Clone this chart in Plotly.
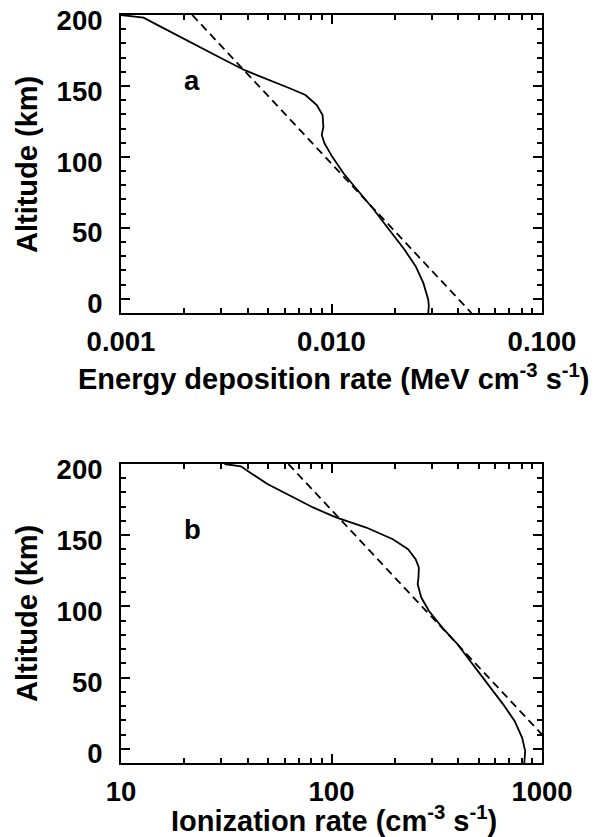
import plotly.graph_objects as go
from plotly.subplots import make_subplots

# ---- Panel a: energy deposition rate (MeV cm^-3 s^-1) vs altitude (km)
alt_a = [200, 198.1, 191.6, 184.5, 177.5, 169.3, 161.1, 154.8, 148.2, 143.6, 136.5,
         129.5, 121.3, 115.5, 109.6, 100.2, 88.5, 75.6, 62.8, 48.7, 34.7, 23.0,
         11.2, -0.5, -5.0, -10.0]
edep_a = [0.00100, 0.00128, 0.00155, 0.00191, 0.00234, 0.00301, 0.00387, 0.00496,
          0.00637, 0.00752, 0.00851, 0.00907, 0.00915, 0.00899, 0.00926, 0.01007,
          0.0114, 0.01346, 0.0159, 0.0188, 0.0222, 0.0251, 0.0273, 0.0288, 0.0290,
          0.0288]
fit_alt_a = [200, -10]
fit_edep_a = [0.00218, 0.0462]

# ---- Panel b: ionization rate (cm^-3 s^-1) vs altitude (km)
alt_b = [200, 198.4, 193.0, 185.9, 177.7, 169.5, 162.5, 155.4, 147.2, 140.2, 133.2,
         127.3, 120.3, 115.6, 106.2, 96.8, 85.1, 73.4, 59.3, 45.3, 31.2, 19.5, 7.7,
         -1.6, -8.7, -10.0]
ion_b = [31.0, 37.1, 42.0, 49.6, 63.7, 81.7, 105, 146.3, 195.7, 231, 251, 260, 259,
         256.6, 267, 290.5, 336, 397, 469, 554, 654, 741, 805, 832, 826, 824]
fit_alt_b = [200, -10]
fit_ion_b = [62.4, 1340]

xticks_a = [0.001, 0.01, 0.1]
xticklabels_a = ["0.001", "0.010", "0.100"]
xticks_b = [10, 100, 1000]
xticklabels_b = ["10", "100", "1000"]
yticks = [0, 50, 100, 150, 200]
ytick_labels = ["0", "50", "100", "150", "200"]

FONT = "Liberation Sans, Arial, Helvetica, sans-serif"

fig = make_subplots(rows=2, cols=1, vertical_spacing=0.2)

line_solid = dict(color="black", width=1.8)
line_dash = dict(color="black", width=1.8, dash="8px,5px")

fig.add_trace(go.Scatter(x=edep_a, y=alt_a, mode="lines", line=line_solid,
                         showlegend=False), row=1, col=1)
fig.add_trace(go.Scatter(x=fit_edep_a, y=fit_alt_a, mode="lines", line=line_dash,
                         showlegend=False), row=1, col=1)
fig.add_trace(go.Scatter(x=ion_b, y=alt_b, mode="lines", line=line_solid,
                         showlegend=False), row=2, col=1)
fig.add_trace(go.Scatter(x=fit_ion_b, y=fit_alt_b, mode="lines", line=line_dash,
                         showlegend=False), row=2, col=1)

def minor_log(lo, hi):
    vals = []
    d = lo
    while d < hi:
        for k in range(2, 10):
            vals.append(d * k)
        d *= 10
    return vals

TICK_SIZE = 27.5
TITLE_SIZE = 29

common_axis = dict(showline=True, linecolor="black", linewidth=2, mirror="allticks",
                   ticks="inside", ticklen=9, tickwidth=1.5, tickcolor="black",
                   showgrid=False, zeroline=False,
                   tickfont=dict(family=FONT, size=TICK_SIZE, color="black", weight="bold"))

fig.update_xaxes(type="log", range=[-3, -1], tickmode="array", tickvals=xticks_a,
                 ticktext=xticklabels_a, ticklabelstandoff=3,
                 minor=dict(tickmode="array", tickvals=minor_log(0.001, 0.1),
                            ticks="inside", ticklen=5, tickwidth=1.5, tickcolor="black"),
                 **common_axis, row=1, col=1)
fig.update_xaxes(type="log", range=[1, 3], tickmode="array", tickvals=xticks_b,
                 ticktext=xticklabels_b, ticklabelstandoff=3,
                 minor=dict(tickmode="array", tickvals=minor_log(10, 1000),
                            ticks="inside", ticklen=5, tickwidth=1.5, tickcolor="black"),
                 **common_axis, row=2, col=1)
for r in (1, 2):
    fig.update_yaxes(range=[-10, 200], tickmode="array", tickvals=yticks,
                     ticktext=ytick_labels, ticklabelstandoff=11, ticklabelshift=5,
                     minor=dict(dtick=10, tick0=0, ticks="inside", ticklen=5,
                                tickwidth=1.5, tickcolor="black"),
                     **common_axis, row=r, col=1)

fig.update_layout(
    width=600, height=837,
    margin=dict(l=121, r=58, t=15, b=74, autoexpand=False),
    paper_bgcolor="white", plot_bgcolor="white",
    font=dict(family=FONT, color="black"),
    xaxis=dict(domain=[0, 1]), xaxis2=dict(domain=[0, 1]),
    yaxis=dict(domain=[0.6016, 1.0]), yaxis2=dict(domain=[0.0, 0.3997]),
)

tfont = dict(family=FONT, size=TITLE_SIZE, color="black", weight="bold")
lfont = dict(family=FONT, size=27.5, color="black", weight="bold")
annotations = [
    dict(text="a", xref="x domain", yref="y domain", x=0.169, y=0.78,
         showarrow=False, xanchor="center", yanchor="middle", font=lfont),
    dict(text="b", xref="x2 domain", yref="y2 domain", x=0.169, y=0.78,
         showarrow=False, xanchor="center", yanchor="middle", font=lfont),
    dict(text="Energy deposition rate (MeV cm<sup>-3</sup> s<sup>-1</sup>)",
         xref="paper", yref="paper", x=0.505, y=(763 - 377) / 748,
         showarrow=False, xanchor="center", yanchor="middle", font=tfont),
    dict(text="Ionization rate (cm<sup>-3</sup> s<sup>-1</sup>)",
         xref="paper", yref="paper", x=0.505, y=(763 - 819) / 748,
         showarrow=False, xanchor="center", yanchor="middle", font=tfont),
    dict(text="Altitude (km)", xref="paper", yref="paper", x=(27 - 121) / 421,
         y=(763 - 165) / 748, textangle=-90, showarrow=False,
         xanchor="center", yanchor="middle", font=tfont),
    dict(text="Altitude (km)", xref="paper", yref="paper", x=(27 - 121) / 421,
         y=(763 - 614) / 748, textangle=-90, showarrow=False,
         xanchor="center", yanchor="middle", font=tfont),
]
fig.update_layout(annotations=annotations)

fig.write_html("out.html")
